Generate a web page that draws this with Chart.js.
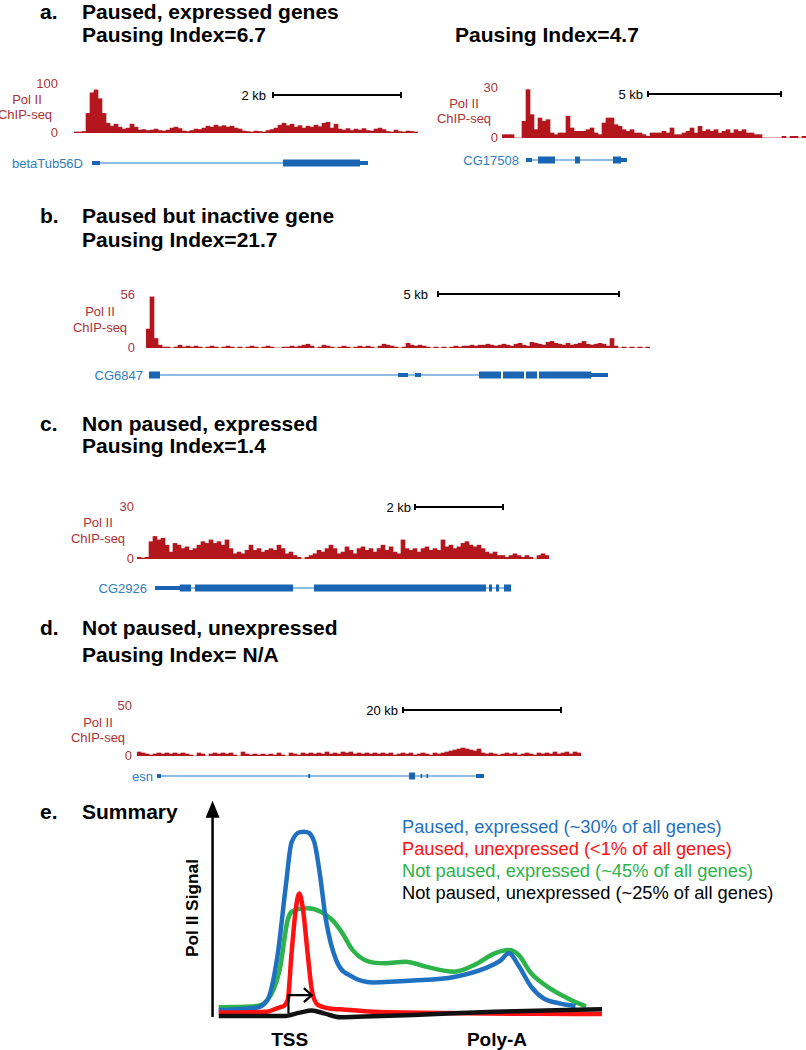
<!DOCTYPE html>
<html>
<head>
<meta charset="utf-8">
<script src="https://cdn.jsdelivr.net/npm/chart.js@4.4.1/dist/chart.umd.min.js"></script>
<style>
  body { margin: 0; background: #fff; }
  #page { position: relative; width: 806px; height: 1050px; overflow: hidden; font-family: 'Liberation Sans', Arial, sans-serif; }
  .t { position: absolute; transform: translateY(-50%); white-space: nowrap; line-height: 1; }
  .c { position: absolute; transform: translate(-50%, -50%); white-space: nowrap; line-height: 1; }
  .title { font-weight: bold; font-size: 21px; color: #000; }
  .lab { font-size: 13px; color: #b03034; }
  .gene { font-size: 13px; color: #2f7dbf; }
  .kb { font-size: 13px; color: #000; }
  .sbar { position: absolute; height: 6px; border-left: 2px solid #000; border-right: 2px solid #000; box-sizing: border-box; }
  .sbar::after { content: ''; position: absolute; left: 0; right: 0; top: 2px; height: 2px; background: #000; }
  canvas { position: absolute; }
  .leg { font-size: 18.3px; }
</style>
</head>
<body>
<div id="page">
  <!-- a -->
  <div class="t title" style="left:40px;top:11px">a.</div>
  <div class="t title" style="left:82px;top:11px">Paused, expressed genes</div>
  <div class="t title" style="left:82px;top:34px">Pausing Index=6.7</div>
  <div class="t title" style="left:455px;top:34px">Pausing Index=4.7</div>
  <div class="c lab" style="left:27px;top:99px">Pol II</div>
  <div class="c lab" style="left:25px;top:114px">ChIP-seq</div>
  <div class="t kb" style="right:540px;top:95px">2 kb</div>
  <div class="sbar" style="left:272px;width:130px;top:92px"></div>
  <div class="t gene" style="right:723px;top:163px">betaTub56D</div>
  <canvas id="trackA1" width="384" height="69" style="left:34px;top:74px"></canvas>
  <canvas id="geneA1" width="344" height="14" style="left:74px;top:156px"></canvas>

  <div class="c lab" style="left:464px;top:103px">Pol II</div>
  <div class="c lab" style="left:464px;top:118px">ChIP-seq</div>
  <div class="t kb" style="right:163px;top:94px">5 kb</div>
  <div class="sbar" style="left:647px;width:135px;top:91px"></div>
  <div class="t gene" style="right:287px;top:160px">CG17508</div>
  <canvas id="trackA2" width="344" height="70" style="left:462px;top:78px"></canvas>
  <canvas id="geneA2" width="304" height="14" style="left:502px;top:153px"></canvas>

  <!-- b -->
  <div class="t title" style="left:40px;top:215px">b.</div>
  <div class="t title" style="left:82px;top:215px">Paused but inactive gene</div>
  <div class="t title" style="left:82px;top:239px">Pausing Index=21.7</div>
  <div class="c lab" style="left:100px;top:311px">Pol II</div>
  <div class="c lab" style="left:100px;top:327px">ChIP-seq</div>
  <div class="t kb" style="right:378px;top:294px">5 kb</div>
  <div class="sbar" style="left:437px;width:183px;top:291px"></div>
  <div class="t gene" style="right:663px;top:375px">CG6847</div>
  <canvas id="trackB" width="544" height="73" style="left:106px;top:285px"></canvas>
  <canvas id="geneB" width="504" height="14" style="left:146px;top:368px"></canvas>

  <!-- c -->
  <div class="t title" style="left:40px;top:423px">c.</div>
  <div class="t title" style="left:82px;top:423px">Non paused, expressed</div>
  <div class="t title" style="left:82px;top:445px">Pausing Index=1.4</div>
  <div class="c lab" style="left:98px;top:522px">Pol II</div>
  <div class="c lab" style="left:98px;top:538px">ChIP-seq</div>
  <div class="t kb" style="right:395px;top:507px">2 kb</div>
  <div class="sbar" style="left:414px;width:90px;top:504px"></div>
  <div class="t gene" style="right:659px;top:588px">CG2926</div>
  <canvas id="trackC" width="452" height="72" style="left:97px;top:497px"></canvas>
  <canvas id="geneC" width="412" height="14" style="left:137px;top:581px"></canvas>

  <!-- d -->
  <div class="t title" style="left:40px;top:627px">d.</div>
  <div class="t title" style="left:82px;top:627px">Not paused, unexpressed</div>
  <div class="t title" style="left:82px;top:654px">Pausing Index= N/A</div>
  <div class="c lab" style="left:98px;top:722px">Pol II</div>
  <div class="c lab" style="left:98px;top:737px">ChIP-seq</div>
  <div class="t kb" style="right:408px;top:710px">20 kb</div>
  <div class="sbar" style="left:402px;width:160px;top:707px"></div>
  <div class="t gene" style="right:653px;top:776px">esn</div>
  <canvas id="trackD" width="484" height="70" style="left:97px;top:696px"></canvas>
  <canvas id="geneD" width="444" height="14" style="left:137px;top:769px"></canvas>

  <!-- e -->
  <div class="t title" style="left:40px;top:811px">e.</div>
  <div class="t title" style="left:82px;top:811px">Summary</div>
  <div class="c" style="left:193px;top:908px;transform:translate(-50%,-50%) rotate(-90deg);font-weight:bold;font-size:17.3px">Pol II Signal</div>
  <div id="legend"></div>
  <div id="xticks"></div>
  <canvas id="summary" width="460" height="260" style="left:170px;top:780px"></canvas>
</div>

<script>
// ChIP-seq read density per bin (left to right)
const aLeftSignal = [2, 2, 3, 40, 82, 88, 70, 40, 20, 14, 18, 12, 8, 10, 18, 12, 6, 7, 5, 6,
  8, 5, 4, 6, 10, 12, 9, 4, 3, 5, 8, 7, 10, 14, 12, 16, 13, 15, 12, 14,
  10, 8, 4, 3, 2, 4, 3, 2, 5, 7, 10, 16, 20, 15, 18, 12, 15, 10, 14, 12,
  16, 13, 20, 22, 10, 18, 8, 6, 9, 5, 8, 6, 9, 5, 4, 8, 10, 7, 3, 2,
  6, 3, 2, 4, 3, 2];
const aRightSignal = [2, 2, 2, 0, 0, 10, 29, 14, 5, 12, 10, 11, 3, 2, 3, 3, 13, 6, 4, 4,
  4, 5, 6, 3, 2, 9, 12, 12, 8, 7, 5, 4, 5, 3, 3, 2, 1, 3, 3, 3,
  4, 3, 6, 2, 2, 3, 4, 6, 3, 7, 4, 5, 4, 5, 3, 4, 5, 3, 5, 4,
  5, 3, 3, 2, 2, 0, 0, 0, 0, 0, 1, 0, 1, 1, 0, 1];
const bSignal = [20, 54, 10, 3, 1, 1, 0, 1, 3, 1, 2, 1, 2, 1, 0, 1, 2, 1, 0, 1,
  2, 1, 0, 1, 0, 1, 2, 1, 0, 1, 2, 1, 0, 0, 1, 1, 2, 1, 2, 3,
  4, 2, 0, 1, 3, 2, 1, 0, 1, 2, 1, 0, 1, 2, 1, 2, 1, 0, 2, 4,
  3, 2, 1, 0, 1, 5, 3, 2, 3, 2, 1, 0, 1, 0, 1, 0, 1, 2, 1, 2,
  2, 3, 2, 3, 3, 4, 3, 2, 3, 4, 3, 2, 4, 5, 3, 2, 6, 5, 4, 3,
  6, 7, 5, 4, 3, 5, 3, 4, 5, 7, 4, 3, 4, 5, 4, 2, 10, 2, 0, 1,
  0, 1, 0, 1, 0, 1];
const cSignal = [1, 0.5, 1, 10, 13, 11, 12, 8, 4, 9, 8, 6, 7, 5, 6, 8, 10, 9, 11, 9,
  10, 8, 11, 6, 3, 4, 3, 5, 8, 5, 6, 4, 5, 6, 5, 8, 6, 3, 4, 2,
  1, 0, 1, 2, 3, 5, 4, 6, 8, 6, 3, 4, 7, 5, 3, 6, 7, 5, 6, 4,
  6, 8, 5, 7, 4, 3, 11, 6, 5, 6, 4, 6, 7, 5, 6, 5, 11, 7, 8, 6,
  7, 9, 10, 8, 7, 8, 6, 4, 3, 4, 2, 2, 1, 2, 3, 2, 1, 2, 1, 0,
  2, 3, 2];
const dSignal = [4, 3, 2, 1, 2, 3, 2, 3, 2, 3, 2, 3, 2, 1, 0, 3, 2, 0, 2, 3,
  2, 3, 2, 3, 1, 0, 4, 2, 1, 2, 1, 2, 1, 2, 1, 3, 1, 0, 3, 2,
  1, 3, 2, 3, 2, 3, 2, 4, 2, 3, 2, 4, 3, 4, 2, 3, 2, 3, 2, 3,
  2, 3, 2, 3, 1, 2, 3, 2, 3, 1, 2, 3, 2, 1, 3, 2, 3, 4, 5, 6,
  7, 8, 7, 6, 5, 7, 3, 2, 3, 2, 1, 2, 3, 2, 3, 1, 2, 3, 2, 1,
  3, 2, 3, 2, 4, 2, 3, 4, 2, 4, 3];

// gene models, in the same bin units as the tracks above
const aLeftIntrons = [[6.5, 52.25]];
const aLeftUtrs = [[4.5, 6.5], [71.5, 73.5]];
const aLeftExons = [[52.25, 71.5]];
const aRightIntrons = [[7.5, 9], [13.25, 18.25], [19.5, 27.75]];
const aRightUtrs = [[6, 7.5], [29.75, 31.25]];
const aRightExons = [[9, 13.25], [18.25, 19.5], [27.75, 29.75]];
const bIntrons = [[3.5, 63], [65.5, 83.25]];
const bUtrs = [[63, 65.5], [67.25, 68.75], [111.25, 115.5]];
const bExons = [[0.75, 3.5], [83.25, 88.75], [89.25, 94.5], [95, 97.75], [98.25, 111.25]];
const cIntrons = [[13.5, 14.5], [39, 44.25], [87.25, 91.75]];
const cUtrs = [[4.5, 10.75]];
const cExons = [[10.75, 13.5], [14.5, 39], [44.25, 87.25], [88, 88.75], [89.75, 90.5], [91.75, 93.5]];
const dIntrons = [[6, 68], [69.5, 84.75]];
const dUtrs = [[5, 6], [42.8, 43.3], [70.9, 71.3], [72.4, 72.8], [84.75, 86.75]];
const dExons = [[68, 69.5]];

// summary profiles (position along gene 0-100, relative Pol II signal)
const pausedExpressedX = [0, 8.5, 12.7, 15.3, 17.5, 19, 22.2, 24.9, 26.5, 28, 30.7, 34.9, 40.2, 50.8, 61.4, 69.8, 73.5, 75.7, 78.3, 81.5, 84.7, 88.9, 93.1];
const pausedExpressedY = [1.8, 2.8, 7.3, 31, 70, 94, 100, 94.5, 75, 51, 29, 20, 17, 18, 20, 25, 29, 33, 26, 14.7, 8.3, 5.5, 4];
const pausedUnexpressedX = [0, 12.7, 15.9, 18, 19, 20.1, 21, 22, 23.3, 24.3, 25.9, 31.7, 40.2, 100];
const pausedUnexpressedY = [0.4, 0.9, 3.3, 7.3, 33, 57, 66, 57, 31, 12.8, 4.6, 2.2, 0.9, -0.4];
const notPausedExpressedX = [0, 8.5, 12.7, 15.9, 18, 20.1, 23.3, 26.5, 29.6, 32.3, 34.9, 39.2, 43.4, 48.7, 54, 61.4, 66.7, 72, 75.7, 78.3, 81.5, 85.7, 91, 95.8];
const notPausedExpressedY = [3.3, 3.7, 7.3, 23.9, 51.4, 56.9, 57.8, 56, 51.4, 44, 34.9, 28.4, 27.5, 28.4, 25.7, 22.9, 26.6, 33, 34.9, 32, 22, 14.7, 8.3, 3.7];
const notPausedUnexpressedX = [0, 16.9, 21.2, 24.3, 27.5, 31.7, 38.1, 50.8, 72, 100];
const notPausedUnexpressedY = [-1.5, -1.5, 0.4, 1.5, 0, -2.2, -1.8, -0.9, 0.9, 2.2];
const summaryLabels = ['Paused, expressed (~30% of all genes)', 'Paused, unexpressed (<1% of all genes)',
  'Not paused, expressed (~45% of all genes)', 'Not paused, unexpressed (~25% of all genes)'];
const summaryTicks = ['TSS', 'Poly-A'];
const summaryTickPos = [18.5, 72.6];
const tssMark = [18.2, 24.3, 10]; // bent arrow: x start, x end, height

Chart.defaults.font.family = "'Liberation Sans', Arial, sans-serif";
const signalRed = '#b3171d';
const labelRed = '#b03034';
const geneBlue = '#1a64b4';
const intronBlue = '#6aa7dc';

function makeTrack(id, values, max, gap) {
    new Chart(document.getElementById(id), {
        type: 'bar',
        data: {
            labels: values.map((v, i) => i),
            datasets: [{ data: values, backgroundColor: signalRed, borderWidth: 0, barPercentage: 1, categoryPercentage: 1 }]
        },
        options: {
            responsive: false,
            animation: false,
            layout: { padding: { top: 10, bottom: 10, left: 0, right: 0 } },
            plugins: { legend: { display: false }, tooltip: { enabled: false } },
            scales: {
                x: { display: false },
                y: {
                    min: 0, max: max,
                    grid: { display: false, drawTicks: false },
                    border: { display: false },
                    afterBuildTicks: s => { s.ticks = [{ value: 0 }, { value: max }]; },
                    // fixed axis width; keep the tick padding from eating into the plot height
                    afterFit: s => { s.width = 40; s.paddingTop = 0; s.paddingBottom = 0; },
                    ticks: { color: labelRed, padding: gap, font: { size: 13 } }
                }
            }
        }
    });
}

function segPoints(segs) {
    const pts = [];
    segs.forEach(s => { pts.push({ x: s[0], y: 0 }, { x: s[1], y: 0 }, { x: s[1], y: null }); });
    return pts;
}

function makeGene(id, bins, introns, utrs, exons) {
    const line = (segs, w, color) => ({ data: segPoints(segs), borderColor: color, borderWidth: w, pointRadius: 0, spanGaps: false, borderCapStyle: 'butt', tension: 0 });
    new Chart(document.getElementById(id), {
        type: 'line',
        data: { datasets: [line(exons, 7, geneBlue), line(utrs, 4, geneBlue), line(introns, 1.5, intronBlue)] },
        options: {
            responsive: false,
            animation: false,
            layout: { padding: 0 },
            plugins: { legend: { display: false }, tooltip: { enabled: false } },
            scales: {
                x: { type: 'linear', min: 0, max: bins, display: false },
                y: { min: -1, max: 1, display: false }
            }
        }
    });
}

makeTrack('trackA1', aLeftSignal, 100, 16);
makeTrack('trackA2', aRightSignal, 30, 4);
makeTrack('trackB', bSignal, 56, 11);
makeTrack('trackC', cSignal, 30, 3);
makeTrack('trackD', dSignal, 50, 5);
makeGene('geneA1', aLeftSignal.length, aLeftIntrons, aLeftUtrs, aLeftExons);
makeGene('geneA2', aRightSignal.length, aRightIntrons, aRightUtrs, aRightExons);
makeGene('geneB', bSignal.length, bIntrons, bUtrs, bExons);
makeGene('geneC', cSignal.length, cIntrons, cUtrs, cExons);
makeGene('geneD', dSignal.length, dIntrons, dUtrs, dExons);

// Summary panel
const summaryColors = ['#1f70c1', '#ff1111', '#2cb34a', '#111111'];
const pairs = (xs, ys) => xs.map((x, i) => ({ x: x, y: ys[i] }));

const arrowPlugin = {
    id: 'arrows',
    afterDatasetsDraw(chart) {
        const { ctx, scales: { x, y } } = chart;
        ctx.save();
        ctx.strokeStyle = '#000';
        ctx.fillStyle = '#000';
        // y axis arrow
        const ax = x.getPixelForValue(-1.6);
        const yBase = y.getPixelForValue(-2);
        const yTip = y.getPixelForValue(117);
        ctx.lineWidth = 2.5;
        ctx.beginPath(); ctx.moveTo(ax, yBase); ctx.lineTo(ax, yTip + 10); ctx.stroke();
        ctx.beginPath(); ctx.moveTo(ax, yTip); ctx.lineTo(ax - 7, yTip + 17); ctx.lineTo(ax + 7, yTip + 17); ctx.closePath(); ctx.fill();
        // bent arrow at TSS
        const x0 = x.getPixelForValue(tssMark[0]);
        const x1 = x.getPixelForValue(tssMark[1]);
        const y0 = y.getPixelForValue(0);
        const y1 = y.getPixelForValue(tssMark[2]);
        ctx.lineWidth = 2.2;
        ctx.beginPath(); ctx.moveTo(x0, y0); ctx.lineTo(x0, y1); ctx.lineTo(x1, y1); ctx.stroke();
        ctx.beginPath(); ctx.moveTo(x1 - 8, y1 - 7); ctx.lineTo(x1, y1); ctx.lineTo(x1 - 8, y1 + 7); ctx.stroke();
        ctx.restore();
    }
};

const summaryChart = new Chart(document.getElementById('summary'), {
    type: 'line',
    data: {
        datasets: [
            { data: pairs(notPausedUnexpressedX, notPausedUnexpressedY), borderColor: summaryColors[3] },
            { data: pairs(pausedUnexpressedX, pausedUnexpressedY), borderColor: summaryColors[1] },
            { data: pairs(pausedExpressedX, pausedExpressedY), borderColor: summaryColors[0] },
            { data: pairs(notPausedExpressedX, notPausedExpressedY), borderColor: summaryColors[2] }
        ]
    },
    options: {
        responsive: false,
        animation: false,
        layout: { padding: { left: 48.7, right: 28, top: 15.3, bottom: 17.6 } },
        datasets: { line: { borderWidth: 4.5, pointRadius: 0, cubicInterpolationMode: 'monotone', fill: false, clip: false } },
        plugins: { legend: { display: false }, tooltip: { enabled: false } },
        scales: {
            x: { type: 'linear', min: 0, max: 100, display: false },
            y: { min: -5, max: 120, display: false }
        }
    },
    plugins: [arrowPlugin]
});

// legend text and x-axis labels for the summary, placed from the chart's own scales
const legendColors = [summaryColors[0], summaryColors[1], summaryColors[2], '#000'];
const legendEl = document.getElementById('legend');
summaryLabels.forEach((txt, i) => {
    const d = document.createElement('div');
    d.className = 't leg';
    d.style.left = '402px';
    d.style.top = (827 + i * 22) + 'px';
    d.style.color = legendColors[i];
    d.textContent = txt;
    legendEl.appendChild(d);
});
const tickEl = document.getElementById('xticks');
summaryTicks.forEach((txt, i) => {
    const d = document.createElement('div');
    d.className = 'c';
    d.style.fontWeight = 'bold';
    d.style.fontSize = '19px';
    d.style.left = (170 + summaryChart.scales.x.getPixelForValue(summaryTickPos[i])) + 'px';
    d.style.top = '1039px';
    d.textContent = txt;
    tickEl.appendChild(d);
});
</script>
</body>
</html>
